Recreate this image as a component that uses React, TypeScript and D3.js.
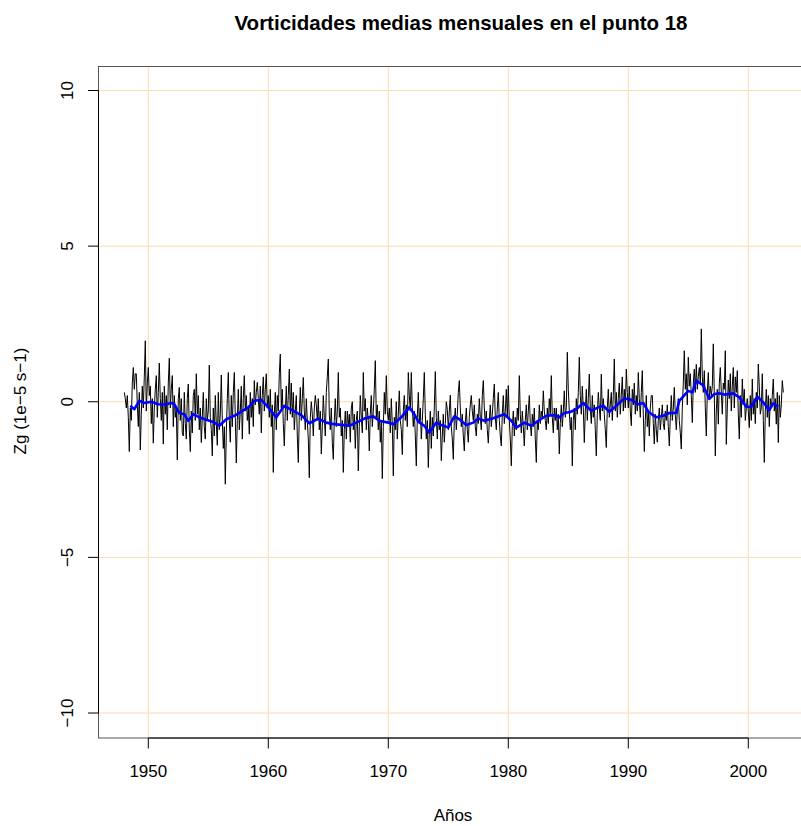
import React from "react";
import * as d3 from "d3";

const startYear = 1948;
// Monthly vorticity values, one row per year 1948..2002
const monthly: number[][] = [
  [0.3, 0.1, -0.2, 0.2, -0.5, -1.6, -0.2, -0.6, 0.6, 1.1, 0.4, 0.9],
  [0.9, -0.1, -0.8, 0.3, -1.55, -0.4, 0.5, -0.2, 0.8, 1.96, -0.3, 0.6],
  [1.1, 0.2, 0.5, -0.7, 0.1, -1.33, -0.2, 0.4, 0.84, -0.5, 0.3, 1.24],
  [0.1, -0.6, 0.3, -1.36, 0.5, -0.4, 0.2, -0.9, 0.6, 1.4, -0.2, 0.4],
  [0.84, -0.8, 0.2, -0.5, -0.2, -1.87, 0.1, 0.46, -0.6, 0.1, -1.0, -1.1],
  [0.3, -0.7, -1.2, 0.1, 0.57, -0.9, -1.6, -0.3, -1.0, 0.2, 0.4, -0.6],
  [0.9, -0.4, 0.2, -0.9, -0.2, -1.31, -0.5, 0.3, -0.8, -1.2, 0.1, -0.6],
  [-0.3, 1.18, -0.5, -0.9, -1.74, -0.2, -1.1, 0.2, -0.7, -1.4, 0.3, -0.9],
  [-0.4, 0.86, -0.6, -1.5, -0.8, -2.65, -1.0, 0.1, 0.94, -0.6, -1.3, 0.2],
  [-0.8, 0.3, 0.94, -0.5, -1.97, -0.6, 0.4, -0.9, -0.3, 0.5, -1.2, 0.1],
  [0.84, -0.3, 0.2, -0.6, -0.2, -1.04, 0.3, -0.5, 0.1, -0.8, 0.68, -0.1],
  [0.3, 0.62, 0.1, -0.4, 0.5, -1.0, 0.2, 0.8, -0.3, 0.4, 0.9, -0.2],
  [0.2, -0.5, 0.4, -0.8, -0.1, -2.27, -0.4, 0.3, -0.9, 0.2, -0.3, 0.9],
  [1.53, -0.2, 0.4, -0.7, -1.42, -0.3, 0.5, -0.6, 0.2, 1.05, -0.4, 0.6],
  [-0.5, 0.3, -0.9, -0.3, 0.2, -1.1, -1.95, -0.4, 0.46, -0.6, 0.1, 0.78],
  [-0.3, -0.9, 0.1, -0.6, -1.2, -2.44, -0.5, 0.0, -0.4, -1.1, -0.2, 0.2],
  [-0.1, -0.6, 0.1, -0.9, -0.3, -1.68, -0.8, 0.2, -0.5, -1.1, 0.3, 0.8],
  [1.37, -0.4, -0.9, -0.2, -1.3, -1.85, -0.6, 0.1, -0.8, -0.3, 0.94, -0.5],
  [-0.2, -1.1, -0.6, -2.27, -0.9, -0.3, -1.2, -0.3, -0.8, -0.4, -1.3, -0.2],
  [0.0, -0.9, -0.4, -1.5, -0.6, -0.3, -2.22, -0.8, 0.2, -0.5, -1.0, 0.94],
  [-0.3, 0.1, -0.9, -0.2, -0.6, -1.58, -0.4, 0.2, -0.8, -0.3, 0.4, 1.32],
  [-0.5, -0.1, -0.9, -0.3, -1.3, -0.6, -2.47, -0.8, 0.3, -0.4, 0.84, -0.3],
  [-0.6, -0.2, -1.0, 0.1, -0.7, -2.38, -0.5, -0.9, 0.0, -1.2, -0.4, 0.35],
  [-0.6, -0.9, -1.7, -0.3, 0.2, -0.6, -0.1, -0.8, 0.94, 0.2, -0.3, 0.94],
  [-0.2, -0.8, -0.3, -1.1, -2.06, -0.5, 0.3, -0.7, -0.2, -1.2, -0.6, 0.1],
  [0.94, -0.4, -1.2, -0.6, -2.11, -1.0, -0.3, -1.5, -0.5, -1.1, -0.2, 0.97],
  [-0.5, -1.2, -0.3, -0.9, -0.6, -1.89, -1.1, -0.4, -1.3, -0.7, 0.0, -0.24],
  [-0.9, -0.3, 0.21, -0.8, -1.2, -1.85, -0.6, -0.2, -0.9, -0.4, 0.3, 0.68],
  [-0.2, -0.8, -0.4, -1.1, -1.58, -0.7, -0.2, -0.9, -1.3, -0.5, -0.1, 0.2],
  [-0.3, -0.6, -0.1, -0.8, -1.1, -0.4, -0.7, 0.1, -0.5, -0.9, 0.2, 0.68],
  [-0.2, -0.7, -0.3, -0.9, -1.33, -0.6, -0.1, -0.8, -0.4, 0.1, 0.57, -0.5],
  [-0.9, -0.2, 0.3, -0.6, -1.1, -1.42, -0.4, 0.2, -0.7, -0.3, 0.4, -0.5],
  [0.52, -0.6, -1.2, -2.06, -0.8, -0.3, -1.1, -0.5, -0.9, -0.2, -0.6, 0.84],
  [-0.4, -1.0, -0.3, -0.8, -1.42, -0.6, -0.1, -0.9, -0.3, 0.2, -0.7, -1.1],
  [-0.4, -0.8, -0.2, -1.2, -1.95, -0.6, -0.9, -0.1, -0.7, -0.3, -0.5, 0.35],
  [-0.3, -0.6, -0.9, -0.2, -0.7, 0.1, -0.4, 0.84, -0.5, -1.0, -0.2, -0.6],
  [-0.2, -0.9, -0.4, -1.68, -0.7, -0.1, -0.8, -0.3, 0.35, -0.5, -0.2, 1.59],
  [0.4, -0.3, -0.9, -0.5, -2.06, -0.6, -0.2, -0.9, 0.1, -0.4, 0.3, 1.43],
  [0.2, -0.4, 0.5, -0.2, -1.31, -0.3, 0.4, -0.6, 0.1, 0.89, -0.2, -0.7],
  [0.2, -0.5, -0.1, -0.9, -1.74, -0.4, 0.3, -0.2, -0.6, 0.89, -0.3, 0.1],
  [-0.4, -0.9, -1.47, -0.2, 0.4, -0.5, -0.1, 0.3, -0.6, 0.2, 1.37, -0.3],
  [0.3, -0.5, 0.1, 0.6, -0.4, 0.2, 0.8, -0.3, 0.4, -0.2, 1.05, 0.3],
  [-0.2, 0.5, -0.3, -0.77, 0.4, -0.1, 0.6, -0.4, 0.2, -0.3, 0.94, 0.1],
  [-0.5, 0.3, 1.0, -0.4, -1.6, -0.6, 0.2, -0.8, -0.3, -1.1, -0.2, 0.2],
  [0.2, -0.7, -1.36, -0.4, -0.9, -1.3, -0.6, -0.2, -0.9, -0.5, -0.1, -0.7],
  [-0.9, -0.3, -0.6, -0.1, -0.8, -1.42, -0.5, 0.2, -0.6, -0.2, 0.46, -0.4],
  [-0.9, -0.3, 0.1, -0.6, -1.0, -1.52, -0.2, 0.6, 1.64, 0.4, 0.9, -0.1],
  [1.43, 0.5, 0.9, 0.2, -0.67, 0.6, 1.05, 0.3, 1.2, 0.4, 0.8, 1.1],
  [0.6, 2.34, 0.8, 0.3, 1.0, -0.2, -1.1, 0.3, 0.94, 0.1, 0.5, 0.2],
  [0.5, 1.86, 0.2, -1.74, -0.3, 0.4, -0.72, 0.6, 1.1, 0.3, -0.4, 0.6],
  [0.4, 1.64, -1.37, -0.2, 0.7, 0.1, 0.9, -0.3, 0.5, 1.1, -0.2, 0.8],
  [0.3, 1.0, -0.4, -1.2, 0.2, -0.5, 0.73, -0.1, 0.4, -0.6, -0.2, 0.1],
  [-0.3, -0.83, 0.2, -0.6, 0.73, -0.4, 0.1, -0.7, 0.3, -0.2, 1.21, 0.5],
  [-0.4, -0.2, 0.9, -0.6, -1.95, -0.3, 0.4, -0.5, 0.2, -0.8, 0.1, -0.2],
  [0.2, 0.73, -0.3, 0.1, -0.72, 0.3, -1.31, 0.2, -0.5, -0.1, 0.68, 0.3],
];

// Running mean (blue), month index since Jan 1948 and value
const blueMonths: number[] = [
  6, 10, 15, 20, 27, 34, 40, 47, 50, 55, 60, 64, 69, 75, 82, 89, 95, 102, 110, 117,
  124, 130, 137, 144, 152, 160, 169, 177, 185, 194, 202, 210, 219, 225, 232, 240, 249, 255, 264, 269,
  277, 285, 290, 294, 300, 305, 312, 317, 324, 330, 335, 342, 349, 354, 360, 369, 380, 387, 392, 400,
  407, 414, 422, 430, 435, 440, 446, 452, 459, 467, 474, 479, 485, 492, 500, 507, 514, 519, 524, 532,
  539, 545, 552, 555, 564, 568, 572, 579, 585, 590, 595, 600, 609, 615, 622, 627, 633, 639, 645, 649, 654,
];
const blueValues: number[] = [
  -0.13, -0.24, 0.03, -0.04, 0.0, -0.08, -0.09, -0.04, -0.08, -0.36, -0.4, -0.61, -0.4, -0.5, -0.58, -0.65, -0.77, -0.56, -0.45, -0.32,
  -0.18, 0.03, 0.06, -0.18, -0.5, -0.13, -0.29, -0.43, -0.69, -0.54, -0.67, -0.72, -0.75, -0.77, -0.67, -0.54, -0.47, -0.61, -0.67, -0.72,
  -0.5, -0.18, -0.4, -0.64, -0.77, -0.99, -0.67, -0.75, -0.83, -0.47, -0.56, -0.75, -0.67, -0.54, -0.61, -0.53, -0.4, -0.61, -0.83, -0.67,
  -0.77, -0.61, -0.45, -0.43, -0.5, -0.36, -0.33, -0.24, -0.04, -0.29, -0.18, -0.13, -0.32, -0.13, 0.11, 0.06, -0.08, -0.04, -0.32, -0.5,
  -0.45, -0.36, -0.36, 0.03, 0.35, 0.3, 0.68, 0.52, 0.09, 0.25, 0.27, 0.23, 0.27, 0.14, -0.16, -0.16, 0.16, -0.02, -0.27, -0.05, -0.16,
];

const xTicks: number[] = [1950, 1960, 1970, 1980, 1990, 2000];
const xGrid: number[] = [1950, 1960, 1970, 1980, 1990, 2000, 2010];
const yTicks: number[] = [-10, -5, 0, 5, 10];

const title = "Vorticidades medias mensuales en el punto 18";
const xLabel = "Años";
const yLabel = "Zg (1e\u22125 s\u22121)";

export default function App() {
  const W = 801, H = 826;
  const left = 98.5, right = 824, top = 66.5, bottom = 738;
  const x = d3.scaleLinear().domain([1950, 2000]).range([148.3, 748.3]);
  const y = d3.scaleLinear().domain([-10, 10]).range([713, 90.5]);

  const series = monthly.flat().map((v, i) => ({ t: startYear + i / 12, v }));
  const blue = blueMonths.map((m, i) => ({ t: startYear + m / 12, v: blueValues[i] }));

  const line = d3
    .line<{ t: number; v: number }>()
    .x((d) => x(d.t))
    .y((d) => y(d.v));

  const font = "'Liberation Sans', Arial, Helvetica, sans-serif";
  const fmt = (v: number) => (v < 0 ? "\u2212" + Math.abs(v) : String(v));

  return (
    <svg
      width={W}
      height={H}
      style={{ position: "absolute", left: 0, top: 0, background: "#fff" }}
      fontFamily={font}
    >
      <rect x={0} y={0} width={W} height={H} fill="#fff" />
      {/* grid */}
      {xGrid.map((t) => (
        <line key={"gx" + t} x1={x(t)} x2={x(t)} y1={top} y2={bottom} stroke="#f8deb0" strokeWidth={1} />
      ))}
      {yTicks.map((v) => (
        <line key={"gy" + v} x1={left} x2={right} y1={y(v)} y2={y(v)} stroke="#f8deb0" strokeWidth={1} />
      ))}
      {/* data */}
      <path d={line(series) || ""} fill="none" stroke="#000" strokeWidth={1} strokeLinejoin="round" />
      <path d={line(blue) || ""} fill="none" stroke="#0000ff" strokeWidth={2.6} strokeLinejoin="round" />
      {/* box */}
      <rect x={left} y={top} width={right - left} height={bottom - top} fill="none" stroke="#555" strokeWidth={1} />
      {/* x axis */}
      <line x1={x(1950)} x2={x(2000)} y1={bottom} y2={bottom} stroke="#000" strokeWidth={1} />
      {xTicks.map((t) => (
        <g key={"xt" + t}>
          <line x1={x(t)} x2={x(t)} y1={bottom} y2={bottom + 10.5} stroke="#000" strokeWidth={1} />
          <text x={x(t)} y={776.5} textAnchor="middle" fontSize={17} fill="#000">
            {t}
          </text>
        </g>
      ))}
      {/* y axis */}
      <line x1={left} x2={left} y1={y(-10)} y2={y(10)} stroke="#000" strokeWidth={1} />
      {yTicks.map((v) => (
        <g key={"yt" + v}>
          <line x1={left - 10.5} x2={left} y1={y(v)} y2={y(v)} stroke="#000" strokeWidth={1} />
          <text
            transform={`translate(${72.5},${y(v)}) rotate(-90)`}
            textAnchor="middle"
            fontSize={17}
            fill="#000"
          >
            {fmt(v)}
          </text>
        </g>
      ))}
      {/* labels */}
      <text x={461} y={29.5} textAnchor="middle" fontSize={20.5} fontWeight="bold" fill="#000">
        {title}
      </text>
      <text x={453} y={821} textAnchor="middle" fontSize={17} fill="#000">
        {xLabel}
      </text>
      <text transform={`translate(${25.5},${401}) rotate(-90)`} textAnchor="middle" fontSize={17} fill="#000">
        {yLabel}
      </text>
    </svg>
  );
}
